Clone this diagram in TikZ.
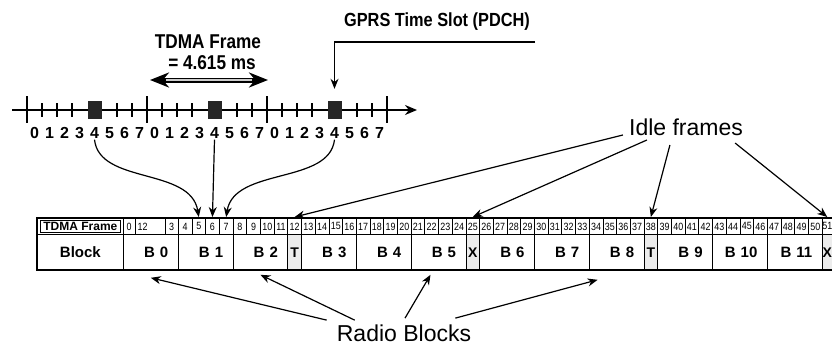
\documentclass[tikz,border=0pt]{standalone}
\usepackage{fontspec}
\setmainfont{Liberation Sans}
\newfontfamily\narrowfont[FakeStretch=0.85]{Liberation Sans}
\newfontfamily\condfont[FakeStretch=0.86]{Liberation Sans}
\usetikzlibrary{arrows.meta}

\tikzset{
  fcell/.style={draw, line width=0.8pt, anchor=north west, inner sep=0pt, minimum height=16pt,
    font=\narrowfont\fontsize{10.5}{10.5}\selectfont},
  bcell/.style={draw, line width=0.8pt, anchor=north west, inner sep=0pt, minimum height=36pt,
    minimum width=54.8pt, text width=35pt, align=right, font=\bfseries\fontsize{15}{15}\selectfont},
  idlecell/.style={draw, line width=0.8pt, fill=gray!15, anchor=north west, inner sep=0pt,
    minimum height=36pt, minimum width=13.7pt, font=\bfseries\fontsize{14}{14}\selectfont},
  slotbox/.style={fill=black!85, minimum width=14pt, minimum height=18pt, inner sep=0pt},
  digit/.style={inner sep=1pt, font=\bfseries\fontsize{16}{16}\selectfont},
  title/.style={inner sep=0pt, font=\condfont\bfseries\fontsize{20}{20}\selectfont},
  big/.style={inner sep=0pt, anchor=base, font=\fontsize{23}{23}\selectfont},
  con/.style={line width=1.2pt, -{Stealth[length=10pt,width=8pt]}}
}

\begin{document}
\begin{tikzpicture}[x=1pt, y=-1pt]
  \clip (0,0) rectangle (832,345);

  % Time axis with three TDMA frames
  \draw[line width=1.6pt, -{Stealth[length=12pt,width=10pt]}] (12,110) -- (417,110);
  \foreach \f in {0,1,2} {
    \foreach \k in {1,2,3,6,7}
      \draw[line width=1.2pt] ({27+120*\f+15*\k},103) -- ({27+120*\f+15*\k},117);
    \node[slotbox] (s\f) at ({94.5+120*\f},110) {};
    \foreach \s in {0,...,7}
      \node[digit] (d\f\s) at ({34.5+120*\f+15*\s},133) {\s};
  }
  \foreach \x in {27,147,267,387}
    \draw[line width=1.8pt] (\x,96) -- (\x,123);

  % Frame length
  \node[title] (tdma) at (208,42) {TDMA Frame};
  \node[title] (dur) at (212,63) {= 4.615 ms};
  \coordinate (ta) at (150,80);
  \coordinate (tb) at (268,80);
  \draw[line width=5pt, {Stealth[length=19pt,width=15pt]}-{Stealth[length=19pt,width=15pt]}] (ta) -- (tb);
  \draw[line width=2pt, gray!40, shorten <=16pt, shorten >=16pt] (ta) -- (tb);

  % GPRS time slot
  \node[title, font=\condfont\bfseries\fontsize{19}{19}\selectfont] (gprs) at (437,22) {GPRS Time Slot (PDCH)};
  \coordinate (gline) at (535,42);
  \draw[con] (gline) -| ([yshift=12pt]s2.north);

  % Multiframe table
  \node[fcell, minimum width=86pt, minimum height=16pt, font=\bfseries\fontsize{12}{12}\selectfont] (lblf) at (37,218) {TDMA Frame};
  \draw[line width=0.6pt] (40,220.5) rectangle (120.5,232);
  \node[fcell, minimum width=11.5pt] (f0) at (123,218) {0};
  \node[fcell, minimum width=30pt, text width=28pt, align=left] (f1) at (134.5,218) {\,12};
  \node[fcell, minimum width=13.3pt] (f3) at (164.5,218) {3};
  \foreach \i in {4,...,50}
    \node[fcell, minimum width=13.7pt] (f\i) at ({123+13.7*\i},218) {\i};
  \node[fcell, minimum width=10.3pt] (f51) at (821.7,218) {51};

  \node[bcell, minimum width=86pt, text width=80pt, align=center] (blk) at (37,234) {Block};
  \foreach \n/\s in {0/0,1/4,2/8,3/13,4/17,5/21,6/26,7/30,8/34,9/39,10/43,11/47}
    \node[bcell] (b\n) at ({123+13.7*\s},234) {B~\n};
  \foreach \s/\l in {12/T,25/X,38/T}
    \node[idlecell] (i\s) at ({123+13.7*\s},234) {\l};
  \node[idlecell, minimum width=10.3pt] (i51) at (821.7,234) {X};
  \draw[line width=1.6pt] (37,218) rectangle (836,270);

  % Slots mapped to frames
  \draw[con] (d04.south) .. controls +(5,45) and +(-8,-50) .. ([yshift=1pt]f5.north);
  \draw[con] (d14.south) -- ([yshift=1pt]f6.north);
  \draw[con] (d24.south) .. controls +(-5,45) and +(8,-50) .. ([yshift=1pt]f7.north);

  % Idle frames
  \node[big] (idle) at (686,135) {Idle frames};
  \draw[con] ([xshift=-6pt]idle.base west) -- ([yshift=1pt]f12.north);
  \draw[con] ([xshift=18pt,yshift=-5pt]idle.base west) -- ([yshift=1pt]f25.north);
  \draw[con] ([xshift=41pt,yshift=-10pt]idle.base west) -- ([yshift=1pt]f38.north);
  \draw[con] ([xshift=-8pt,yshift=-8pt]idle.base east) -- ([yshift=1pt]f51.north);

  % Radio blocks
  \node[big] (rb) at (404,341) {Radio Blocks};
  \draw[con] ([xshift=-10pt,yshift=4pt]rb.north west) -- ([yshift=-7pt]b0.south);
  \draw[con] ([xshift=18pt,yshift=4pt]rb.north west) -- ([yshift=-4pt]b2.south);
  \draw[con] ([xshift=1pt,yshift=6pt]rb.north) -- ([xshift=-8pt,yshift=-4pt]b5.south);
  \draw[con] ([xshift=-16pt,yshift=6pt]rb.north east) -- ([xshift=-19pt,yshift=-9pt]b8.south);
\end{tikzpicture}
\end{document}
